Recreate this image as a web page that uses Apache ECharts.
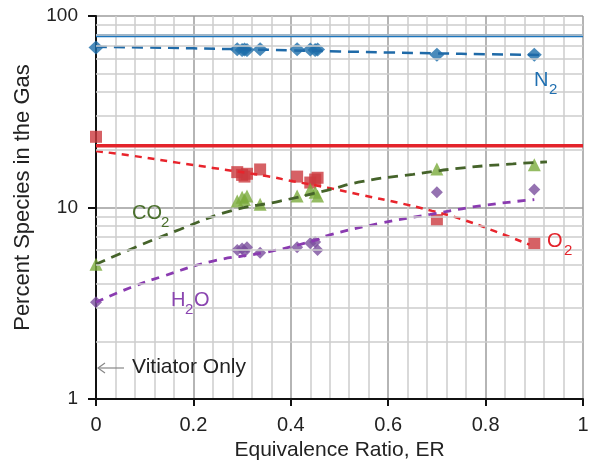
<!DOCTYPE html>
<html>
<head>
<meta charset="utf-8">
<script src="https://cdn.jsdelivr.net/npm/echarts@6/dist/echarts.min.js"></script>
<style>html,body{margin:0;padding:0;background:#fff}#c{width:595px;height:466px}</style>
</head>
<body>
<div id="c"></div>
<script>
// Measured equivalence ratios (shared by all species)
const erPoints = [0, 0.29, 0.30, 0.305, 0.31, 0.337, 0.413, 0.44, 0.45, 0.455, 0.70, 0.90];
const n2Points  = [68.5, 67.0, 66.5, 66.8, 66.5, 67.0, 67.0, 66.8, 66.5, 66.8, 62.8, 62.8];
const o2Points  = [23.4, 15.3, 14.8, 14.5, 15.0, 15.8, 14.5, 13.5, 14.0, 14.3, 8.6, 6.5];
const co2Points = [5.05, 10.8, 11.3, 11.0, 11.5, 10.4, 11.5, 12.4, 12.0, 11.5, 15.9, 16.7];
const h2oPoints = [3.2, 6.0, 6.1, 5.9, 6.2, 5.8, 6.2, 6.5, 6.6, 6.0, 12.0, 12.4];

// Dashed trend curves
const n2FitX  = [0, 0.1, 0.2, 0.3, 0.4, 0.5, 0.6, 0.7, 0.8, 0.91];
const n2FitY  = [69, 68.5, 67.8, 67, 66.2, 65.3, 64.5, 63.8, 63.2, 62.6];
const o2FitX  = [0, 0.07, 0.17, 0.24, 0.35, 0.405, 0.475, 0.55, 0.62, 0.69, 0.75, 0.82, 0.89];
const o2FitY  = [19.7, 18.7, 17.1, 16.1, 14.6, 13.7, 12.7, 11.55, 10.6, 9.6, 8.7, 7.5, 6.4];
const co2FitX = [0, 0.07, 0.172, 0.275, 0.378, 0.474, 0.548, 0.651, 0.754, 0.856, 0.926];
const co2FitY = [5.05, 6.04, 7.68, 9.57, 10.8, 12.3, 13.7, 14.9, 16.1, 16.9, 17.3];
const h2oFitX = [0, 0.07, 0.138, 0.24, 0.343, 0.446, 0.48, 0.583, 0.686, 0.789, 0.90];
const h2oFitY = [3.2, 3.81, 4.38, 5.25, 5.8, 6.69, 7.2, 8.26, 9.2, 10.2, 11.0];

// Air composition reference lines
const airX = [0, 1];
const airN2 = 79;
const airO2 = 21;

// Axis ticks
const xTicks = [0, 0.2, 0.4, 0.6, 0.8, 1];
const yTicks = [1, 10, 100];
const yMinorGrid = [2, 3, 4, 5, 6, 7, 8, 9, 20, 30, 40, 50, 60, 70, 80, 90];

const pairs = (xs, ys) => xs.map((x, i) => [x, ys[i]]);
const FONT = "'Liberation Sans', Arial, sans-serif";

const chart = echarts.init(document.getElementById('c'), null, {renderer: 'canvas'});

const option = {
  animation: false,
  backgroundColor: '#fff',
  grid: {left: 96, right: 12, top: 16, bottom: 65},
  xAxis: {
    type: 'value', min: 0, max: 1, interval: 0.2,
    name: 'Equivalence Ratio, ER', nameLocation: 'middle', nameGap: 41,
    nameTextStyle: {fontFamily: FONT, fontSize: 21, color: '#222'},
    axisLine: {show: true, onZero: false, lineStyle: {color: '#111', width: 2}},
    axisTick: {show: true, length: 7, lineStyle: {color: '#111', width: 2}},
    axisLabel: {fontFamily: FONT, fontSize: 20, color: '#222', margin: 16,
      formatter: v => { const t = xTicks.find(k => Math.abs(k - v) < 1e-9); return t === undefined ? '' : String(t); }},
    splitLine: {show: true, lineStyle: {color: '#9c9c9c', width: 1.5}},
    minorTick: {show: false, splitNumber: 5},
    minorSplitLine: {show: true, lineStyle: {color: '#cdcdcd', width: 1.5}}
  },
  yAxis: {
    type: 'log', logBase: 10, min: 1, max: 100,
    name: 'Percent Species in the Gas', nameLocation: 'middle', nameGap: 62,
    nameTextStyle: {fontFamily: FONT, fontSize: 22, color: '#222', padding: [0, 0, 0, 20]},
    axisLine: {show: true, lineStyle: {color: '#111', width: 2}},
    axisTick: {show: true, length: 8, lineStyle: {color: '#111', width: 2}},
    axisLabel: {fontFamily: FONT, fontSize: 19, color: '#222', margin: 18,
      formatter: v => { const t = yTicks.find(k => Math.abs(k - v) < 1e-6); return t === undefined ? '' : String(t); }},
    splitLine: {show: true, lineStyle: {color: '#9c9c9c', width: 1.5}}
  },
  series: [
    {
      name: 'grid', type: 'line', data: [[0, 1]], symbol: 'none', silent: true,
      lineStyle: {opacity: 0}, z: 1,
      markLine: {
        silent: true, symbol: 'none', animation: false,
        label: {show: false},
        lineStyle: {color: '#cdcdcd', width: 1.5, type: 'solid'},
        data: yMinorGrid.map(v => ({yAxis: v}))
      }
    },
    {name: 'N2 air', type: 'line', data: airX.map(x => [x, airN2]), symbol: 'none',
      lineStyle: {color: '#1d76bd', width: 3.2}},
    {name: 'O2 air', type: 'line', data: airX.map(x => [x, airO2]), symbol: 'none',
      lineStyle: {color: '#e3232b', width: 3.5}},
    {name: 'N2 fit', type: 'line', smooth: true, data: pairs(n2FitX, n2FitY), symbol: 'none',
      lineStyle: {color: '#1f6aa8', width: 2.5, type: [11, 7]}},
    {name: 'O2 fit', type: 'line', smooth: true, data: pairs(o2FitX, o2FitY), symbol: 'none',
      lineStyle: {color: '#e8242c', width: 2.5, type: [7, 6]}},
    {name: 'CO2 fit', type: 'line', smooth: true, data: pairs(co2FitX, co2FitY), symbol: 'none',
      lineStyle: {color: '#45632a', width: 2.8, type: [10, 7]}},
    {name: 'H2O fit', type: 'line', smooth: true, data: pairs(h2oFitX, h2oFitY), symbol: 'none',
      lineStyle: {color: '#8a3bb0', width: 2.8, type: [8, 7]}},
    {name: 'N2', type: 'scatter', data: pairs(erPoints, n2Points), symbol: 'diamond', symbolSize: [15, 14],
      itemStyle: {color: '#1d6eaa'}},
    {name: 'O2', type: 'scatter', data: pairs(erPoints, o2Points), symbol: 'rect', symbolSize: 12,
      itemStyle: {color: '#cc3a3e'}},
    {name: 'CO2', type: 'scatter', data: pairs(erPoints, co2Points), symbol: 'triangle', symbolSize: 13,
      itemStyle: {color: '#7aab3c'}},
    {name: 'H2O', type: 'scatter', data: pairs(erPoints, h2oPoints), symbol: 'diamond', symbolSize: 12,
      itemStyle: {color: '#7b4f9e'}}
  ],
  graphic: {
    elements: [
      {type: 'text', z: 100, left: 534, top: 70, style: {text: 'N', font: '20px ' + FONT, fill: '#1f6fb0'}},
      {type: 'text', z: 100, left: 549, top: 82, style: {text: '2', font: '15px ' + FONT, fill: '#1f6fb0'}},
      {type: 'text', z: 100, left: 547, top: 231, style: {text: 'O', font: '20px ' + FONT, fill: '#e3232b'}},
      {type: 'text', z: 100, left: 564, top: 243, style: {text: '2', font: '15px ' + FONT, fill: '#e3232b'}},
      {type: 'text', z: 100, left: 132, top: 203, style: {text: 'CO', font: '20px ' + FONT, fill: '#4a6f2c'}},
      {type: 'text', z: 100, left: 161, top: 215, style: {text: '2', font: '15px ' + FONT, fill: '#4a6f2c'}},
      {type: 'text', z: 100, left: 171, top: 290, style: {text: 'H', font: '20px ' + FONT, fill: '#8a45b0'}},
      {type: 'text', z: 100, left: 185, top: 302, style: {text: '2', font: '15px ' + FONT, fill: '#8a45b0'}},
      {type: 'text', z: 100, left: 194, top: 290, style: {text: 'O', font: '20px ' + FONT, fill: '#8a45b0'}},
      {type: 'text', z: 100, left: 132, top: 357, style: {text: 'Vitiator Only', font: '21px ' + FONT, fill: '#222'}},
      {type: 'polyline', z: 100, shape: {points: [[124, 368], [98, 368]]}, style: {stroke: '#888', lineWidth: 1.2, fill: null}},
      {type: 'polyline', z: 100, shape: {points: [[105, 363], [98, 368], [105, 373]]}, style: {stroke: '#888', lineWidth: 1.2, fill: null}}
    ]
  }
};
chart.setOption(option);
</script>
</body>
</html>
